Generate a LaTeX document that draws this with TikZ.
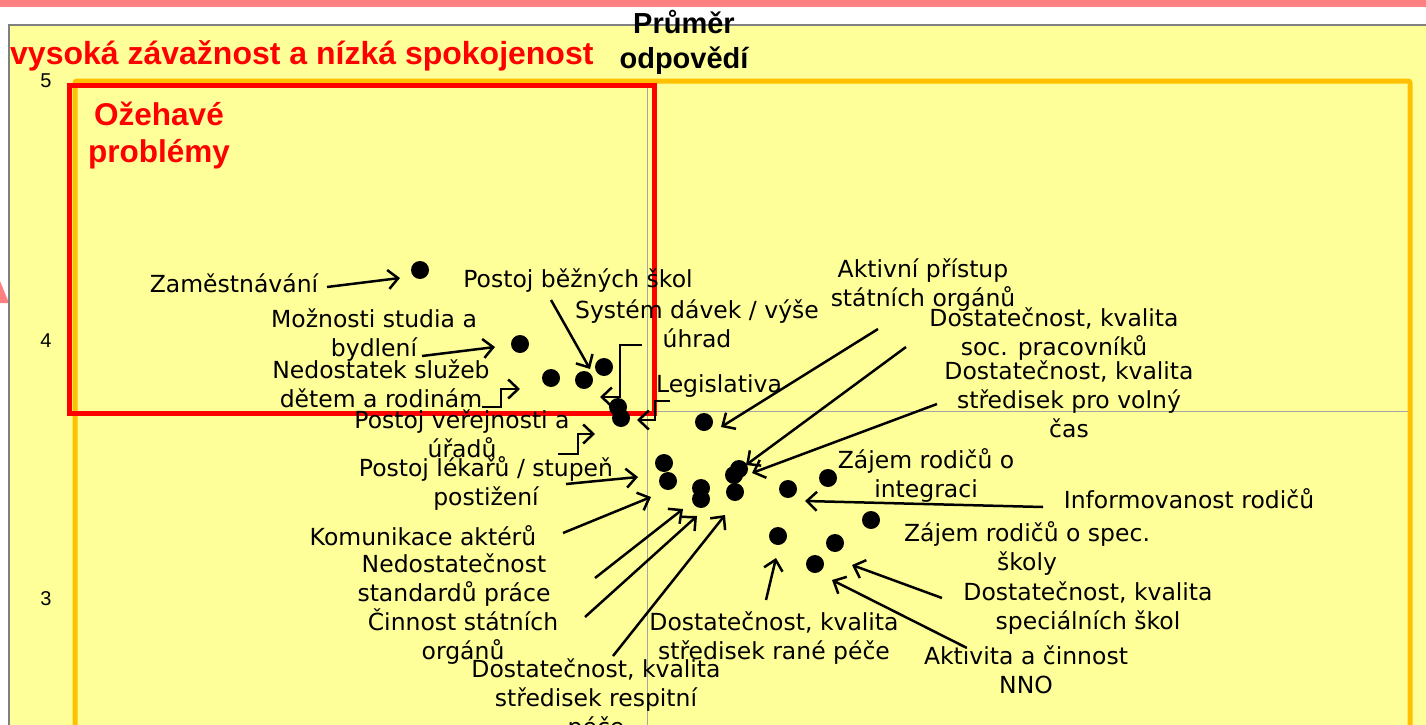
\documentclass[tikz,border=0pt]{standalone}
\usepackage{fontspec}
\setmainfont{DejaVu Sans}
\newfontfamily\arialf{Liberation Sans}
\usetikzlibrary{arrows.meta}
\definecolor{bandpink}{RGB}{255,128,128}
\definecolor{chartyellow}{RGB}{255,255,153}
\definecolor{frameorange}{RGB}{255,192,0}
\definecolor{framered}{RGB}{255,0,0}
\definecolor{bordergrey}{RGB}{128,128,128}
\definecolor{axisgrey}{RGB}{165,165,165}
\tikzset{
  lbl/.style={inner sep=0pt, anchor=base, align=center, font={\fontsize{23.5}{29}\selectfont}},
  pt/.style={circle, fill=black, inner sep=0pt, minimum size=18pt},
  arr/.style={line width=2.5pt, -{Straight Barb[length=10pt,width=19pt]}},
  elb/.style={line width=2.5pt, -{Straight Barb[length=10pt,width=19pt]}},
  axnum/.style={inner sep=0pt, anchor=base, font={\arialf\fontsize{20}{24}\selectfont}}
}
\begin{document}
\begin{tikzpicture}[x=1pt,y=-1pt]
\useasboundingbox (0,0) rectangle (1426,725);
% background
\fill[white] (0,0) rectangle (1426,725);
\fill[bandpink] (0,0) rectangle (1426,7);
\fill[bandpink] (0,281) -- (9,303) -- (0,303) -- cycle;
\filldraw[fill=chartyellow, draw=bordergrey, line width=1.6pt] (9,25) rectangle (1440,740);
% axis lines
\draw[axisgrey, line width=1pt] (647,81) -- (647,725);
\draw[axisgrey, line width=1pt] (75,411) -- (1410,411);
% frames
\draw[frameorange, line width=5pt, rounded corners=2pt] (75,81) rectangle (1410,760);
\draw[framered, line width=5pt] (69,85) rectangle (654,413);
% headings (anchor base = last line baseline)
\node[inner sep=0pt, anchor=base west, text=framered, font={\arialf\bfseries\fontsize{32}{36}\selectfont}] (title) at (10,65) {vysoká závažnost a nízká spokojenost};
\node[inner sep=0pt, anchor=base, align=center, font={\arialf\bfseries\fontsize{29}{35}\selectfont}] (prumer) at (684,68) {Průměr\\odpovědí};
\node[inner sep=0pt, anchor=base, align=center, text=framered, font={\arialf\bfseries\fontsize{31.5}{37}\selectfont}] (ozeh) at (159,162) {Ožehavé\\problémy};
\node[axnum] (y5) at (46,87) {5};
\node[axnum] (y4) at (46,347) {4};
\node[axnum] (y3) at (46,605) {3};
% dots
\node[pt] (d1) at (420,270) {};
\node[pt] (d2) at (520,344) {};
\node[pt] (d3) at (551,378) {};
\node[pt] (d4) at (584,380) {};
\node[pt] (d5) at (604,367) {};
\node[pt] (d6) at (618,407) {};
\node[pt] (d7) at (621,418) {};
\node[pt] (d8) at (704,422) {};
\node[pt] (d9) at (664,463) {};
\node[pt] (d10) at (668,481) {};
\node[pt] (d11) at (701,488) {};
\node[pt] (d12) at (701,499) {};
\node[pt] (d13) at (739,469) {};
\node[pt] (d14) at (734,475) {};
\node[pt] (d15) at (735,492) {};
\node[pt] (d16) at (788,489) {};
\node[pt] (d17) at (828,478) {};
\node[pt] (d18) at (871,520) {};
\node[pt] (d19) at (778,536) {};
\node[pt] (d20) at (835,543) {};
\node[pt] (d21) at (815,564) {};
% labels (y = baseline of last line)
\node[lbl] (l1) at (234,292) {Zaměstnávání};
\node[lbl] (l2) at (374,356) {Možnosti studia a\\bydlení};
\node[lbl] (l3) at (381,407) {Nedostatek služeb\\dětem a rodinám};
\node[lbl] (l4) at (578,287) {Postoj běžných škol};
\node[lbl] (l5) at (697,347) {Systém dávek / výše\\úhrad};
\node[lbl] (l6) at (719,392) {Legislativa};
\node[lbl] (l7) at (462,457) {Postoj veřejnosti a\\úřadů};
\node[lbl] (l8) at (486,505) {Postoj lékařů / stupeň\\postižení};
\node[lbl] (l9) at (423,545) {Komunikace aktérů};
\node[lbl] (l10) at (454,601) {Nedostatečnost\\standardů práce};
\node[lbl] (l11) at (463,659) {Činnost státních\\orgánů};
\node[lbl] (l12) at (596,735) {Dostatečnost, kvalita\\středisek respitní\\péče};
\node[lbl] (l13) at (774,659) {Dostatečnost, kvalita\\středisek rané péče};
\node[lbl] (l14) at (1026,693) {Aktivita a činnost\\NNO};
\node[lbl] (l15) at (1088,629) {Dostatečnost, kvalita\\speciálních škol};
\node[lbl] (l16) at (1027,570) {Zájem rodičů o spec.\\školy};
\node[lbl] (l17) at (1189,508) {Informovanost rodičů};
\node[lbl] (l18) at (926,497) {Zájem rodičů o\\integraci};
\node[lbl] (l19) at (1069,437) {Dostatečnost, kvalita\\středisek pro volný\\čas};
\node[lbl] (l20) at (1054,355) {Dostatečnost, kvalita\\soc. pracovníků};
\node[lbl] (l21) at (923,306) {Aktivní přístup\\státních orgánů};
% arrow end coordinates
\coordinate (s1) at (327,287);  \coordinate (t1) at (400,278);
\coordinate (s2) at (422,356);  \coordinate (t2) at (495,347);
\coordinate (s3) at (482,407);  \coordinate (t3) at (520,389);
\coordinate (s4) at (551,300);  \coordinate (t4) at (590,369);
\coordinate (s5) at (642,345);  \coordinate (t5) at (600,397);
\coordinate (s6) at (670,401);  \coordinate (t6) at (637,420);
\coordinate (s7) at (558,454);  \coordinate (t7) at (595,434);
\coordinate (s8) at (566,484);  \coordinate (t8) at (638,477);
\coordinate (s9) at (563,533);  \coordinate (t9) at (651,497);
\coordinate (s10) at (595,578); \coordinate (t10) at (683,509);
\coordinate (s11) at (585,617); \coordinate (t11) at (697,516);
\coordinate (s12) at (613,656); \coordinate (t12) at (725,515);
\coordinate (s13) at (766,600); \coordinate (t13) at (776,558);
\coordinate (s14) at (965,647); \coordinate (t14) at (832,580);
\coordinate (s15) at (942,598); \coordinate (t15) at (852,565);
\coordinate (s17) at (1043,507); \coordinate (t17) at (805,501);
\coordinate (s19) at (937,404); \coordinate (t19) at (752,473);
\coordinate (s20) at (906,347); \coordinate (t20) at (746,465);
\coordinate (s21) at (878,329); \coordinate (t21) at (721,427);
% arrows
\draw[arr] (s1) -- (t1);
\draw[arr] (s2) -- (t2);
\draw[elb] (s3) -- ++(19,0) |- (t3);
\draw[arr] (s4) -- (t4);
\draw[elb] (s5) -- ++(-22,0) |- (t5);
\draw[elb] (s6) -- ++(-15,0) |- (t6);
\draw[elb] (s7) -- ++(20,0) |- (t7);
\draw[arr] (s8) -- (t8);
\draw[arr] (s9) -- (t9);
\draw[arr] (s10) -- (t10);
\draw[arr] (s11) -- (t11);
\draw[arr] (s12) -- (t12);
\draw[arr] (s13) -- (t13);
\draw[arr] (s14) -- (t14);
\draw[arr] (s15) -- (t15);
\draw[arr] (s17) -- (t17);
\draw[arr] (s19) -- (t19);
\draw[arr] (s20) -- (t20);
\draw[arr] (s21) -- (t21);
\end{tikzpicture}
\end{document}
